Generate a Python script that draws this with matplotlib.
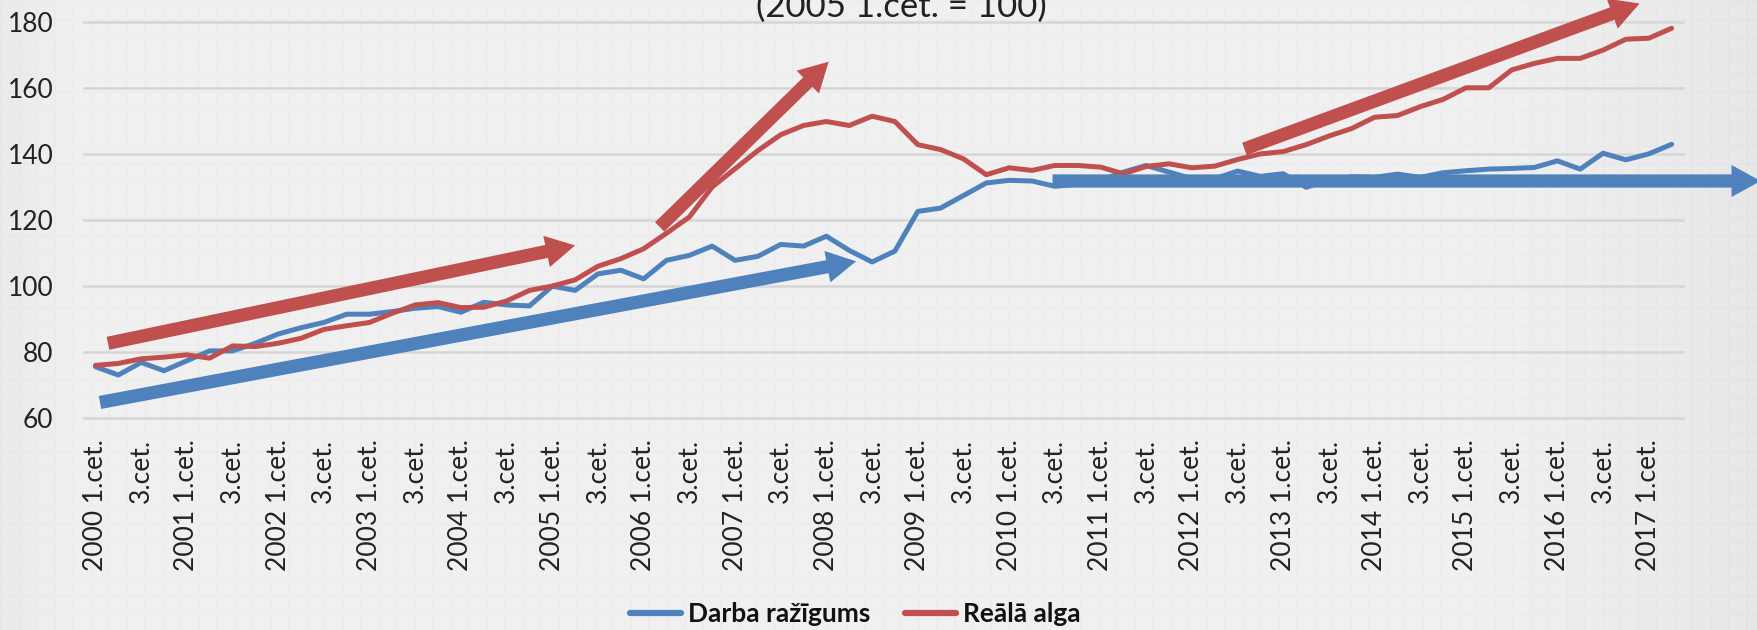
import numpy as np
import matplotlib
matplotlib.use("Agg")
import matplotlib.pyplot as plt
from matplotlib.patches import FancyArrowPatch, ArrowStyle
from matplotlib.lines import Line2D

# ---------------- data ----------------
years = list(range(2000, 2018))
quarters = [f"{y} {q}.cet." for y in years for q in (1, 2, 3, 4)][:70]   # 2000 Q1 .. 2017 Q2
tick_labels = [f"{y} 1.cet." if k == 0 else "3.cet." for y in years for k in (0, 2)][:35]

productivity = [75.6, 73.1, 76.9, 74.4, 77.4, 80.4, 80.4, 82.7, 85.5, 87.4,
                89.0, 91.5, 91.5, 92.3, 93.3, 93.8, 92.1, 95.1, 94.3, 94.0,
                100.0, 98.7, 103.7, 104.8, 102.2, 107.8, 109.3, 112.1, 107.8, 109.0,
                112.6, 112.1, 115.1, 110.8, 107.3, 110.6, 122.6, 123.6, 127.4, 131.2,
                132.0, 131.8, 130.2, 130.8, 132.0, 134.5, 136.5, 134.5, 132.5, 132.5,
                134.8, 133.2, 134.0, 129.9, 132.1, 133.1, 132.9, 133.9, 132.9, 134.3,
                134.9, 135.4, 135.6, 135.9, 137.9, 135.4, 140.2, 138.2, 140.0, 142.9]

real_wage = [76.0, 76.6, 78.0, 78.5, 79.2, 78.2, 81.9, 81.7, 82.7, 84.2,
             86.9, 88.0, 89.0, 91.8, 94.3, 95.0, 93.5, 93.6, 95.5, 98.7,
             100.0, 101.9, 106.0, 108.3, 111.3, 116.0, 120.9, 130.0, 135.5, 141.0,
             145.8, 148.6, 149.8, 148.6, 151.4, 149.8, 142.8, 141.3, 138.5, 133.7,
             135.8, 135.0, 136.5, 136.5, 136.0, 134.0, 136.2, 137.0, 135.8, 136.3,
             138.3, 140.0, 140.7, 142.8, 145.4, 147.7, 151.1, 151.6, 154.3, 156.5,
             160.0, 160.0, 165.4, 167.4, 168.9, 168.9, 171.4, 174.7, 175.0, 178.0]

series_names = ["Darba ražīgums", "Reālā alga"]
y_ticks = [60, 80, 100, 120, 140, 160, 180]

# trend arrows (annotations): (x_start, y_start, x_end, y_end, colour key)
trend_arrows = [
    (0.55, 82.7, 21.0, 112.3, "red"),
    (0.2, 64.8, 33.3, 107.5, "blue"),
    (24.7, 117.9, 32.1, 167.9, "red"),
    (50.3, 141.5, 67.6, 185.5, "red"),
    (41.9, 131.8, 72.9, 131.8, "blue"),
]

BLUE = "#4f81bd"
RED = "#c0504d"
TXT = "#222222"
FONT = "Lato"

plt.rcParams["font.family"] = [FONT, "DejaVu Sans"]

W, H = 1758, 630
fig = plt.figure(figsize=(W / 100, H / 100), dpi=100)

# ---------------- background (slide texture) ----------------
bg = fig.add_axes([0, 0, 1, 1], zorder=-10)
xx, yy = np.meshgrid(np.arange(W), np.arange(H))
base = 0.938 - 0.035 * np.clip((xx - 1450) / 308.0, 0, 1) ** 1.5 \
       - 0.02 * np.clip((70 - xx) / 70.0, 0, 1)
grid_mask = ((xx % 18) < 2) | (((yy - 1) % 18) < 2)
img = base - 0.012 * grid_mask
bg.imshow(img, cmap="gray", vmin=0, vmax=1, aspect="auto",
          extent=[0, 1, 0, 1], interpolation="bilinear")
bg.set_xlim(0, 1)
bg.set_ylim(0, 1)
bg.axis("off")

# ---------------- main axes ----------------
ax = fig.add_axes([84 / W, 1 - 418.3 / H, (1683 - 84) / W, (418.3 - 21.7) / H])
ax.set_facecolor("none")
x = np.arange(len(quarters))

for v in y_ticks:
    ax.axhline(v, color="#d6d6d6", lw=1.8, zorder=0, clip_on=False)

ax.plot(x, productivity, color=BLUE, lw=3.6, solid_joinstyle="round",
        solid_capstyle="round", zorder=3)
ax.plot(x, real_wage, color=RED, lw=3.6, solid_joinstyle="round",
        solid_capstyle="round", zorder=3)

style = ArrowStyle("Simple", head_length=21, head_width=23, tail_width=9.5)
for x0, y0, x1, y1, c in trend_arrows:
    arr = FancyArrowPatch((x0, y0), (x1, y1), arrowstyle=style, mutation_scale=1,
                          color=BLUE if c == "blue" else RED, lw=0,
                          shrinkA=0, shrinkB=0, clip_on=False, zorder=5)
    ax.add_patch(arr)

ax.set_xlim(-0.5, len(quarters) - 0.5)
ax.set_ylim(60, 180)
ax.set_yticks(y_ticks)
ax.set_yticklabels([str(v) for v in y_ticks], fontsize=19, color=TXT)
ax.set_xticks(x[::2])
ax.set_xticklabels(tick_labels, rotation=90, fontsize=19, color=TXT,
                   ha="center", va="top")
ax.tick_params(axis="both", length=0)
ax.tick_params(axis="x", pad=15)
ax.tick_params(axis="y", pad=22)
for s in ax.spines.values():
    s.set_visible(False)

# title (partially cut off at the top, as in the original slide)
fig.text(901.5 / W, 1 - 17 / H, "(2005 1.cet. = 100)", ha="center", va="baseline",
         fontsize=25, color=TXT)

# legend
handles = [Line2D([], [], color=BLUE, lw=4.5, solid_capstyle="round"),
           Line2D([], [], color=RED, lw=4.5, solid_capstyle="round")]
leg = fig.legend(handles, series_names, loc="center", bbox_to_anchor=(855 / W, 1 - 614 / H),
                 ncol=2, frameon=False, handlelength=1.95, handletextpad=0.25,
                 columnspacing=1.3, borderaxespad=0,
                 prop={"family": [FONT, "DejaVu Sans"], "weight": "bold", "size": 19})
for t in leg.get_texts():
    t.set_color("#111111")

fig.savefig("out.png", dpi=100)
